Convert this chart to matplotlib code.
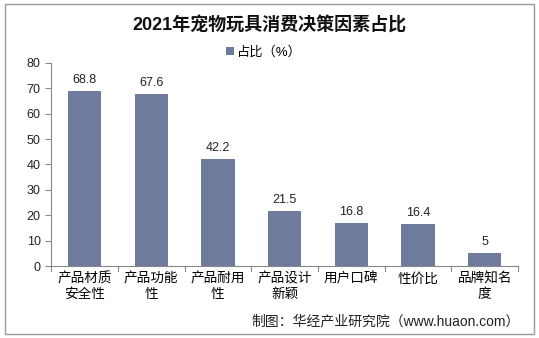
import matplotlib.pyplot as plt
from matplotlib.patches import Rectangle

plt.rcParams['font.family'] = ['Liberation Sans', 'Noto Sans CJK SC', 'DejaVu Sans']

categories = ['产品材质\n安全性', '产品功能\n性', '产品耐用\n性', '产品设计\n新颖', '用户口碑', '性价比', '品牌知名\n度']
values = [68.8, 67.6, 42.2, 21.5, 16.8, 16.4, 5]
yticks = [0, 10, 20, 30, 40, 50, 60, 70, 80]

fig = plt.figure(figsize=(5.39, 3.38), dpi=100)
ax = fig.add_axes([0.095, 0.213, 0.866, 0.601])

bars = ax.bar(range(len(values)), values, width=0.5, color='#6f7b9c', label='占比（%）', zorder=2)
for i, v in enumerate(values):
    ax.text(i, v + 2, f'{v:g}', ha='center', va='bottom', fontsize=9, color='#222222')

ax.set_xlim(-0.5, len(values) - 0.5)
ax.set_ylim(0, 80)
ax.set_yticks(yticks)
ax.set_xticks(range(len(values)))
ax.set_xticklabels(categories, fontsize=9.8, linespacing=1.15)
ax.tick_params(axis='y', labelsize=9, length=4, color='#888888', colors='#222222')
ax.tick_params(axis='x', length=0, pad=4)
# category separator ticks
for b in range(len(values) + 1):
    ax.plot([b - 0.5, b - 0.5], [0, -2], color='#888888', lw=0.8, clip_on=False)

for s in ['top', 'right']:
    ax.spines[s].set_visible(False)
ax.spines['left'].set_color('#888888')
ax.spines['bottom'].set_color('#888888')

fig.text(0.5, 0.925, '2021年宠物玩具消费决策因素占比', ha='center', va='center',
         fontsize=13, fontweight='bold', color='#111111')
fig.legend(loc='center', bbox_to_anchor=(0.49, 0.845), frameon=False, fontsize=9.5,
           handlelength=0.6, handleheight=0.6, handletextpad=0.2)
fig.text(0.965, 0.05, '制图：华经产业研究院（www.huaon.com）', ha='right', va='center',
         fontsize=10, color='#222222')

fig.patches.append(Rectangle((0.01, 0.012), 0.98, 0.975, transform=fig.transFigure,
                             fill=False, edgecolor='#999999', lw=1))

fig.savefig('out.png', dpi=100)
